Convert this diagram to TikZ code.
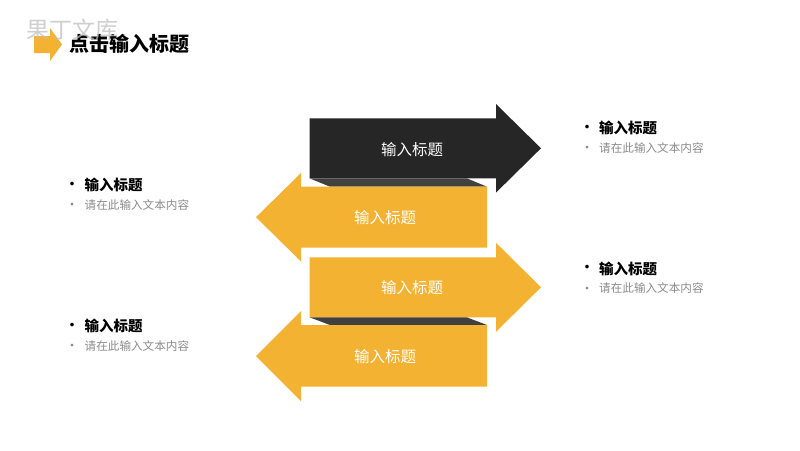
\documentclass[tikz,border=0pt]{standalone}
\usepackage{fontspec}
\newfontfamily\cjk{Noto Sans CJK SC}
\definecolor{ayellow}{HTML}{F4B233}
\definecolor{adark}{HTML}{262626}
\definecolor{astrip}{HTML}{404040}
\definecolor{agray}{HTML}{8C8C8C}
\definecolor{wmgray}{HTML}{BFBFBF}
\tikzset{
  arrowtext/.style={text=white,font=\cjk\fontsize{15.5}{18}\selectfont,inner sep=0pt},
  sidetitle/.style={anchor=west,inner sep=0pt,font=\cjk\bfseries\fontsize{14.5}{17}\selectfont,text=black},
  sidesub/.style={anchor=west,inner sep=0pt,font=\cjk\fontsize{11.6}{14}\selectfont,text=agray},
  bulletbig/.style={inner sep=0pt,font=\cjk\fontsize{17}{18}\selectfont,text=black},
  bulletsmall/.style={inner sep=0pt,font=\cjk\fontsize{13}{14}\selectfont,text=agray},
}
\begin{document}
\begin{tikzpicture}[x=1pt,y=-1pt]
\useasboundingbox (0,0) rectangle (800,450);
\fill[white] (0,0) rectangle (800,450);

% header icon
\fill[ayellow] (34,36) -- (50,36) -- (50,28) -- (62,44.5) -- (50,61) -- (50,53) -- (34,53) -- cycle;
\node[anchor=west,inner sep=0pt,font=\cjk\bfseries\fontsize{20}{24}\selectfont] (title) at (69,44) {点击输入标题};
\node[inner sep=0pt,font=\cjk\fontsize{23}{26}\selectfont,text=wmgray,opacity=0.75] (wm) at (72,30) {果丁文库};

% arrow 1 (dark, right)
\fill[adark] (309.5,118.3) -- (496,118.3) -- (496,104) -- (541,148.3) -- (496,192.6) -- (496,178.3) -- (309.5,178.3) -- cycle;
% strip 1
\fill[astrip] (309.5,178.3) -- (466.7,178.3) -- (487,186.7) -- (330,186.7) -- cycle;
% arrow 2 (yellow, left)
\fill[ayellow] (487,186.7) -- (301,186.7) -- (301,173) -- (256,217.2) -- (301,261.5) -- (301,247.7) -- (487,247.7) -- cycle;
% arrow 3 (yellow, right)
\fill[ayellow] (309.5,257.3) -- (496,257.3) -- (496,242.8) -- (541,287.3) -- (496,331.8) -- (496,317.3) -- (309.5,317.3) -- cycle;
% strip 2
\fill[astrip] (309.5,317.3) -- (466.7,317.3) -- (487,325) -- (330,325) -- cycle;
% arrow 4 (yellow, left)
\fill[ayellow] (487,325) -- (301,325) -- (301,311) -- (256,356) -- (301,401) -- (301,386.7) -- (487,386.7) -- cycle;

\node[arrowtext] (t1) at (412,150) {输入标题};
\node[arrowtext] (t2) at (385,218) {输入标题};
\node[arrowtext] (t3) at (412,288) {输入标题};
\node[arrowtext] (t4) at (385,357) {输入标题};

% right side 1
\node[bulletbig] (rb1) at (587,129) {•};
\node[sidetitle] (rt1) at (599,128.3) {输入标题};
\node[bulletsmall] (rs1b) at (587,149.5) {•};
\node[sidesub] (rs1) at (599,148) {请在此输入文本内容};
% right side 2
\node[bulletbig] (rb2) at (587,269.5) {•};
\node[sidetitle] (rt2) at (599,268.8) {输入标题};
\node[bulletsmall] (rs2b) at (587,290) {•};
\node[sidesub] (rs2) at (599,288.5) {请在此输入文本内容};
% left side 1
\node[bulletbig] (lb1) at (72,186) {•};
\node[sidetitle] (lt1) at (84.5,185.3) {输入标题};
\node[bulletsmall] (ls1b) at (72,206.5) {•};
\node[sidesub] (ls1) at (84.5,205) {请在此输入文本内容};
% left side 2
\node[bulletbig] (lb2) at (72,327) {•};
\node[sidetitle] (lt2) at (84.5,326.3) {输入标题};
\node[bulletsmall] (ls2b) at (72,347.5) {•};
\node[sidesub] (ls2) at (84.5,346) {请在此输入文本内容};
\end{tikzpicture}
\end{document}
